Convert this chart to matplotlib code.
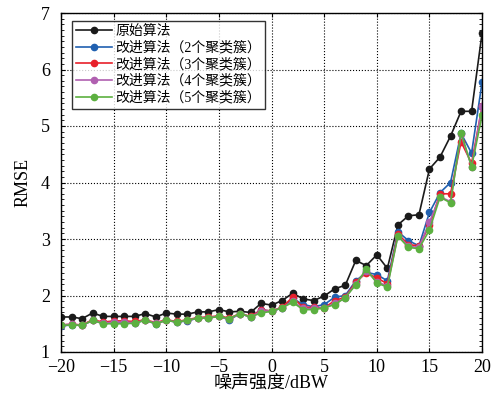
import numpy as np
import matplotlib
matplotlib.use('Agg')
import matplotlib.pyplot as plt
from matplotlib.ticker import MultipleLocator

plt.rcParams['font.family'] = ['Liberation Serif', 'Noto Sans CJK SC', 'DejaVu Sans']

# --- Data ---
noise_db = list(range(-20, 21))

rmse_orig = [1.62, 1.62, 1.59, 1.69, 1.63, 1.63, 1.63, 1.63, 1.68, 1.62,
             1.69, 1.67, 1.67, 1.71, 1.71, 1.75, 1.71, 1.72, 1.70, 1.86,
             1.83, 1.91, 2.04, 1.94, 1.91, 1.99, 2.12, 2.18, 2.62, 2.53,
             2.72, 2.48, 3.25, 3.41, 3.43, 4.24, 4.45, 4.82, 5.26, 5.26, 6.65]
rmse_k2 = [1.46, 1.48, 1.47, 1.56, 1.51, 1.52, 1.52, 1.52, 1.56, 1.50,
           1.56, 1.53, 1.55, 1.60, 1.61, 1.63, 1.57, 1.68, 1.62, 1.75,
           1.72, 1.78, 1.95, 1.84, 1.80, 1.84, 1.97, 2.00, 2.26, 2.41,
           2.37, 2.26, 3.13, 2.97, 2.88, 3.47, 3.82, 4.00, 4.87, 4.52, 5.78]
rmse_k3 = [1.48, 1.49, 1.48, 1.57, 1.53, 1.55, 1.55, 1.54, 1.57, 1.52,
           1.57, 1.54, 1.57, 1.61, 1.62, 1.64, 1.60, 1.68, 1.63, 1.74,
           1.73, 1.79, 1.97, 1.79, 1.79, 1.78, 1.91, 1.97, 2.24, 2.40,
           2.31, 2.21, 3.09, 2.90, 2.88, 3.24, 3.80, 3.80, 4.72, 4.34, 5.35]
rmse_k4 = [1.48, 1.49, 1.47, 1.56, 1.51, 1.53, 1.53, 1.52, 1.56, 1.51,
           1.56, 1.53, 1.56, 1.60, 1.61, 1.63, 1.58, 1.68, 1.62, 1.72,
           1.73, 1.78, 1.90, 1.77, 1.77, 1.78, 1.86, 1.96, 2.21, 2.44,
           2.24, 2.17, 3.06, 2.87, 2.85, 3.30, 3.75, 3.66, 4.85, 4.28, 5.35]
rmse_k5 = [1.47, 1.48, 1.47, 1.56, 1.50, 1.50, 1.50, 1.51, 1.56, 1.50,
           1.56, 1.53, 1.56, 1.60, 1.60, 1.63, 1.59, 1.68, 1.62, 1.69,
           1.72, 1.78, 1.88, 1.75, 1.75, 1.78, 1.84, 1.96, 2.19, 2.47,
           2.22, 2.15, 3.05, 2.85, 2.83, 3.16, 3.74, 3.64, 4.88, 4.28, 5.19]

labels = ['原始算法', '改进算法（2个聚类簇）', '改进算法（3个聚类簇）',
          '改进算法（4个聚类簇）', '改进算法（5个聚类簇）']
colors = ['#1a1a1a', '#2060b0', '#e8202a', '#b060b0', '#5cb040']
series = [rmse_orig, rmse_k2, rmse_k3, rmse_k4, rmse_k5]

# --- Plotting ---
fig = plt.figure(figsize=(4.96, 4.0), dpi=100)
ax = fig.add_axes([0.123, 0.12, 0.849, 0.8475])

for y, c, lab in zip(series, colors, labels):
    ax.plot(noise_db, y, '-o', color=c, lw=1.2, markersize=4.5, label=lab)

ax.set_xlim(-20, 20)
ax.set_ylim(1, 7)
ax.xaxis.set_major_locator(MultipleLocator(5))
ax.yaxis.set_major_locator(MultipleLocator(1))
ax.yaxis.set_minor_locator(MultipleLocator(0.1))
ax.grid(True, which='major', color='black', linestyle=':', lw=0.8)

ax.tick_params(which='both', direction='in', top=True, right=True,
               labelsize=13)
ax.tick_params(axis='x', pad=5)
ax.tick_params(axis='y', pad=8)
ax.tick_params(which='major', length=3)
ax.tick_params(which='minor', length=2)
for sp in ax.spines.values():
    sp.set_linewidth(1.0)

ax.set_xlabel('噪声强度/dBW', fontsize=13, labelpad=0)
ax.set_ylabel('RMSE', fontsize=13, labelpad=7)

leg = ax.legend(loc='upper left', bbox_to_anchor=(0.02, 0.985), fontsize=10,
                frameon=True, fancybox=False, edgecolor='black',
                labelspacing=0.22, handlelength=2.6, handletextpad=0.2,
                borderpad=0.3, borderaxespad=0.2)
leg.get_frame().set_linewidth(1.0)

fig.savefig('out.png', dpi=100)
